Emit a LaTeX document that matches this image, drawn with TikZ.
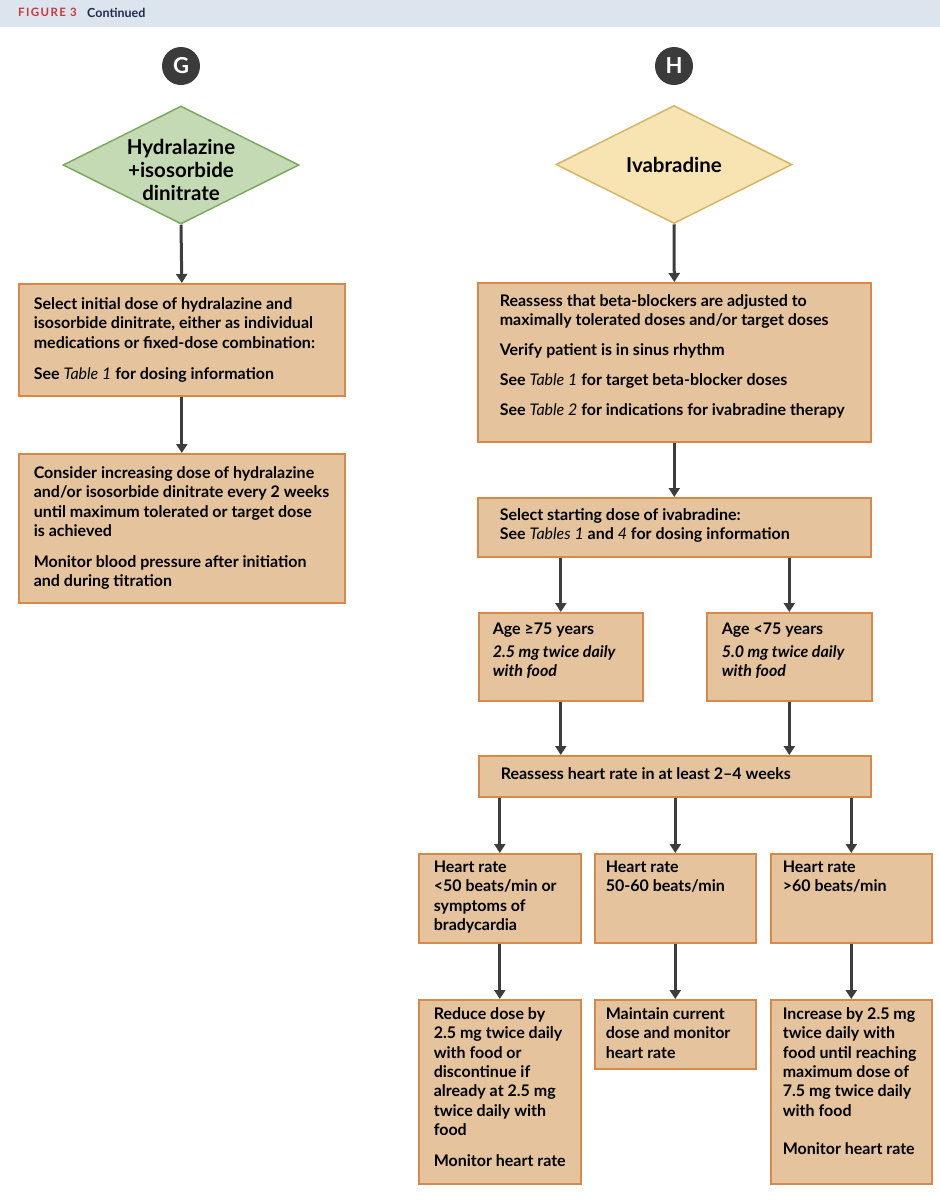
\documentclass[tikz,border=0pt]{standalone}
\usepackage{fontspec}
\setmainfont{Lato}
\newfontfamily\headfont[LetterSpace=12]{Lato}
\usetikzlibrary{shapes.geometric}
\usetikzlibrary{arrows.meta}
\definecolor{headbg}{HTML}{DCE5ED}
\definecolor{figred}{HTML}{C8373D}
\definecolor{navy}{HTML}{1D2B4F}
\definecolor{boxfill}{HTML}{E5C49D}
\definecolor{boxline}{HTML}{D6894B}
\definecolor{greenfill}{HTML}{C4DAB4}
\definecolor{greenline}{HTML}{7DAA5F}
\definecolor{yellowfill}{HTML}{F8E4B2}
\definecolor{yellowline}{HTML}{D6B660}
\definecolor{arrowgrey}{HTML}{3D3D3D}
\definecolor{badgegrey}{HTML}{3B3B3B}
\newcommand{\boxfont}{\fontsize{16}{19.3}\selectfont\bfseries}
\newcommand{\diafont}{\fontsize{20.5}{23.3}\selectfont\bfseries}
\newcommand{\badgefont}{\fontsize{22}{24}\selectfont\bfseries}
\newcommand{\figfont}{\headfont\fontsize{11.5}{13}\selectfont\bfseries}
\newcommand{\contfont}{\fontsize{12.5}{14}\selectfont\bfseries}
\newcommand{\boxtext}[4]{\parbox[t][#2][t]{#1}{\raggedright\rule{0pt}{#3}#4}}
\newcommand{\tabref}[1]{\textmd{\textit{#1}}}
\newcommand{\dialines}[2]{\raisebox{-#1}[0pt][0pt]{\begin{tabular}{@{}c@{}}#2\end{tabular}}}

\begin{document}
\begin{tikzpicture}[x=1pt, y=-1pt,
	stepbox/.style={draw=boxline, fill=boxfill, line width=1.6pt, anchor=north west, inner ysep=0pt, font=\boxfont},
	drugdia/.style={diamond, aspect=2, minimum width=236pt, minimum height=118pt, inner sep=0pt, line width=1.5pt, align=center, font=\diafont},
	badge/.style={circle, fill=badgegrey, text=white, minimum size=38pt, inner sep=0pt, font=\badgefont},
	flow/.style={draw=arrowgrey, line width=3pt, -{Triangle[length=9pt,width=11pt]}}]
			\useasboundingbox (0,0) rectangle (940,1200);
			\fill[headbg] (0,0) rectangle (940,26.5);
			\node[anchor=west, inner sep=0pt, text=figred, font=\figfont] (fig) at (18,12.5) {FIGURE 3};
			\node[anchor=west, inner sep=0pt, text=navy, font=\contfont] (cont) at (87,12.5) {Continued};
			
			\node[badge] (gbadge) at (181,66) {G};
			\node[badge] (hbadge) at (674,66) {H};
			\node[drugdia, fill=greenfill, draw=greenline] (gdia) at (181,165) {\dialines{13pt}{Hydralazine\\+isosorbide\\dinitrate}};
			\node[drugdia, fill=yellowfill, draw=yellowline] (hdia) at (674,164.5) {Ivabradine};
			
			\node[stepbox, inner xsep=15pt] (g1) at (18,283) {\boxtext{296pt}{112pt}{25.7pt}{Select initial dose of hydralazine and\\ isosorbide dinitrate, either as individual\\ medications or fixed-dose combination:\\[11.7pt] See \tabref{Table 1} for dosing information}};
			\node[stepbox, inner xsep=15pt] (g2) at (18,453) {\boxtext{296pt}{149pt}{24.7pt}{Consider increasing dose of hydralazine\\ and/or isosorbide dinitrate every 2 weeks\\ until maximum tolerated or target dose\\ is achieved\\[11.7pt] Monitor blood pressure after initiation\\ and during titration}};
			
			\node[stepbox, inner xsep=22pt] (h1) at (477,282) {\boxtext{349pt}{159pt}{23.7pt}{Reassess that beta-blockers are adjusted to\\ maximally tolerated doses and/or target doses\\[10.5pt] Verify patient is in sinus rhythm\\[10.5pt] See \tabref{Table 1} for target beta-blocker doses\\[10.5pt] See \tabref{Table 2} for indications for ivabradine therapy}};
			\node[stepbox, inner xsep=22pt] (h2) at (477,497) {\boxtext{349pt}{59pt}{22.7pt}{Select starting dose of ivabradine:\\ See \tabref{Tables 1} and \tabref{4} for dosing information}};
			\node[stepbox, inner xsep=14pt] (age1) at (478,612) {\boxtext{136pt}{88pt}{21.7pt}{Age ≥75 years\\[3.7pt] \textit{2.5 mg twice daily\\ with food}}};
			\node[stepbox, inner xsep=15pt] (age2) at (706,612) {\boxtext{135pt}{88pt}{21.7pt}{Age <75 years\\[3.7pt] \textit{5.0 mg twice daily\\ with food}}};
			\node[stepbox, inner xsep=22pt] (hr) at (478,755) {\boxtext{348pt}{41pt}{23.7pt}{Reassess heart rate in at least 2–4 weeks}};
			
			\node[stepbox, inner xsep=15pt] (hr1) at (418,853) {\boxtext{132pt}{89pt}{18.7pt}{Heart rate\\ <50 beats/min or\\ symptoms of\\ bradycardia}};
			\node[stepbox, inner xsep=11pt] (hr2) at (594,853) {\boxtext{139pt}{89pt}{18.7pt}{Heart rate\\ 50-60 beats/min}};
			\node[stepbox, inner xsep=12pt] (hr3) at (770,853) {\boxtext{137pt}{89pt}{18.7pt}{Heart rate\\ >60 beats/min}};
			
			\node[stepbox, inner xsep=15pt] (b1) at (418,999) {\boxtext{132pt}{184pt}{19.7pt}{Reduce dose by\\ 2.5 mg twice daily\\ with food or\\ discontinue if\\ already at 2.5 mg\\ twice daily with\\ food\\[11.7pt] Monitor heart rate}};
			\node[stepbox, inner xsep=11pt] (b2) at (594,999) {\boxtext{139pt}{69pt}{19.7pt}{Maintain current\\ dose and monitor\\ heart rate}};
			\node[stepbox, inner xsep=12pt] (b3) at (770,999) {\boxtext{137pt}{184pt}{19.7pt}{Increase by 2.5 mg\\ twice daily with\\ food until reaching\\ maximum dose of\\ 7.5 mg twice daily\\ with food\\[18.7pt] Monitor heart rate}};
			
			\draw[flow] (gdia.south) -- (g1.north);
			\draw[flow] (g1.south) -- (g2.north);
			\draw[flow] (hdia.south) -- (h1.north);
			\draw[flow] (h1.south) -- (h2.north);
			\draw[flow] (h2.south -| age1.north) -- (age1.north);
			\draw[flow] (h2.south -| age2.north) -- (age2.north);
			\draw[flow] (age1.south) -- (age1.south |- hr.north);
			\draw[flow] (age2.south) -- (age2.south |- hr.north);
			\foreach \col in {hr1,hr2,hr3}
				\draw[flow] (hr.south -| \col.north) -- (\col.north);
			\foreach \top/\bot in {hr1/b1,hr2/b2,hr3/b3}
				\draw[flow] (\top.south) -- (\bot.north);
		\end{tikzpicture}
\end{document}
